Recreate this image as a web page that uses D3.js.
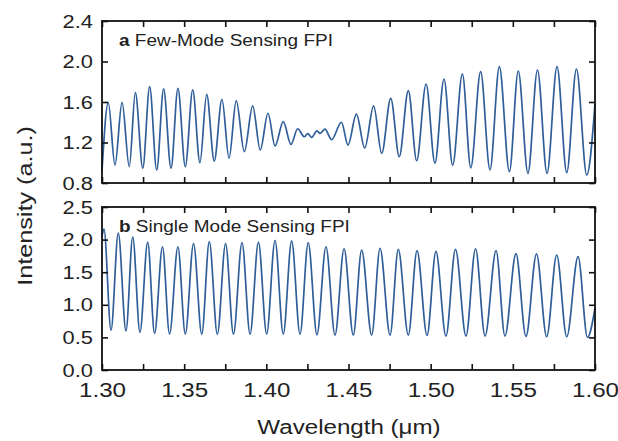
<!DOCTYPE html>
<html><head><meta charset="utf-8">
<script src="https://cdn.jsdelivr.net/npm/d3@7/dist/d3.min.js"></script>
<style>
body{margin:0;background:#fff}
text{font-family:Arial,"Liberation Sans",sans-serif;fill:#222}
</style>
</head><body><svg id="c" width="618" height="441"></svg>
<script>
// ---- data (extrema of the fringes) ----
const aWavelength = [1.3000,1.3038,1.3079,1.3122,1.3166,1.3203,1.3248,1.3290,1.3333,1.3375,1.3420,1.3462,1.3507,1.3552,1.3596,1.3637,1.3683,1.3730,1.3773,1.3817,1.3866,1.3917,1.3963,1.4010,1.4053,1.4103,1.4150,1.4191,1.4231,1.4252,1.4276,1.4308,1.4327,1.4357,1.4397,1.4457,1.4497,1.4548,1.4599,1.4653,1.4702,1.4757,1.4809,1.4864,1.4915,1.4972,1.5026,1.5081,1.5134,1.5193,1.5244,1.5304,1.5361,1.5418,1.5479,1.5533,1.5592,1.5650,1.5708,1.5769,1.5828,1.5887,1.5950,1.6000];
const aIntensity  = [0.92,1.593,0.978,1.597,0.961,1.692,0.945,1.751,0.928,1.729,0.945,1.735,0.961,1.719,1.000,1.676,1.017,1.627,1.044,1.613,1.109,1.561,1.126,1.489,1.166,1.406,1.182,1.336,1.257,1.288,1.251,1.314,1.290,1.332,1.228,1.400,1.175,1.480,1.146,1.562,1.093,1.637,1.060,1.712,1.020,1.778,0.995,1.827,0.975,1.877,0.950,1.900,0.930,1.949,0.912,1.906,0.896,1.916,0.896,1.949,0.902,1.926,0.879,1.58];

const bWavelength = [1.3000,1.3012,1.3055,1.3099,1.3146,1.3187,1.3231,1.3278,1.3320,1.3368,1.3411,1.3462,1.3507,1.3557,1.3607,1.3653,1.3702,1.3752,1.3800,1.3852,1.3901,1.3952,1.4002,1.4053,1.4103,1.4154,1.4205,1.4255,1.4308,1.4363,1.4418,1.4473,1.4529,1.4580,1.4641,1.4692,1.4753,1.4803,1.4864,1.4917,1.4978,1.5032,1.5093,1.5151,1.5215,1.5273,1.5331,1.5398,1.5452,1.5519,1.5580,1.5644,1.5706,1.5767,1.5828,1.5897,1.5954,1.6000];
const bIntensity  = [2.05,2.16,0.61,2.10,0.60,2.04,0.578,1.96,0.56,1.89,0.55,1.89,0.55,1.94,0.547,1.97,0.547,1.94,0.547,1.955,0.547,1.96,0.55,1.99,0.55,1.98,0.547,1.955,0.54,1.89,0.535,1.86,0.535,1.84,0.535,1.867,0.535,1.851,0.535,1.83,0.53,1.82,0.52,1.85,0.52,1.86,0.52,1.83,0.52,1.785,0.515,1.78,0.51,1.764,0.51,1.738,0.50,0.95];

const xTickValues = [1.300,1.325,1.350,1.375,1.400,1.425,1.450,1.475,1.500,1.525,1.550,1.575,1.600];
const xTickLabels = ["1.30","1.35","1.40","1.45","1.50","1.55","1.60"];
const aYTicks = [0.8,1.2,1.6,2.0,2.4];
const bYTicks = [0.0,0.5,1.0,1.5,2.0,2.5];
const panelLetters = ["a","b"];
const panelTitles = ["Few-Mode Sensing FPI","Single Mode Sensing FPI"];
const xTitle = "Wavelength (\u03bcm)";
const yTitle = "Intensity (a.u.)";

// ---- layout ----
const svg = d3.select("#c");
const L = 102, R = 595;
const SX = 1.15; // horizontal stretch of the lettering in the original
const panels = [
  {top:21, bottom:183, domain:[0.8,2.4], ticks:aYTicks, fmt:d3.format(".1f"), xs:aWavelength, ys:aIntensity},
  {top:207, bottom:370, domain:[0,2.5], ticks:bYTicks, fmt:d3.format(".1f"), xs:bWavelength, ys:bIntensity}
];
const x = d3.scaleLinear().domain([1.30,1.60]).range([L,R]);
const lineColor = "#2f5e98";

panels.forEach((p,i)=>{
  const y = d3.scaleLinear().domain(p.domain).range([p.bottom,p.top]);
  const g = svg.append("g");
  const pts = p.xs.map((v,k)=>[v,p.ys[k]]);
  g.append("path").datum(pts)
    .attr("fill","none").attr("stroke",lineColor).attr("stroke-width",1.7)
    .attr("d", d3.line().x(d=>x(d[0])).y(d=>y(d[1])).curve(d3.curveMonotoneX));

  const inward = 6;
  const ax = (axisGen, tx, ty, vals, fmt) => {
    const a = g.append("g").attr("transform",`translate(${tx},${ty})`)
      .call(axisGen.tickValues(vals).tickSizeInner(-inward).tickSizeOuter(0).tickFormat(fmt));
    a.select(".domain").remove();
    a.selectAll(".tick line").attr("stroke","#111").attr("stroke-width",1.6);
    return a;
  };
  const lbl = d => { const s = d3.format(".2f")(d); return xTickLabels.includes(s) && Math.round(d*1000)%50===0 ? s : ""; };
  const bx = ax(d3.axisBottom(x), 0, p.bottom, xTickValues, i===1 ? lbl : ()=>"");
  bx.selectAll("text").attr("font-size",21).attr("y",null).attr("dy",null)
    .attr("transform",`translate(0,27) scale(${SX},1)`).attr("fill","#222");
  ax(d3.axisTop(x), 0, p.top, xTickValues, ()=>"");
  const ly = ax(d3.axisLeft(y), L, 0, p.ticks, p.fmt);
  ly.selectAll("text").attr("font-size",19).attr("x",null)
    .attr("transform",`translate(-9,0) scale(${SX},1)`).attr("fill","#222");
  ax(d3.axisRight(y), R, 0, p.ticks, ()=>"");

  g.append("rect").attr("x",L).attr("y",p.top).attr("width",R-L).attr("height",p.bottom-p.top)
    .attr("fill","none").attr("stroke","#111").attr("stroke-width",1.8);

  const t = g.append("text").attr("transform",`translate(119,${p.top+25}) scale(${SX},1)`).attr("font-size",16.5);
  t.append("tspan").attr("font-weight","bold").text(panelLetters[i]);
  t.append("tspan").text(" "+panelTitles[i]);
});

svg.append("text").attr("transform",`translate(349,434) scale(${SX},1)`).attr("text-anchor","middle").attr("font-size",21).text(xTitle);
svg.append("text").attr("transform",`translate(32,206) rotate(-90) scale(1.2,1)`).attr("text-anchor","middle").attr("font-size",21).text(yTitle);
</script></body></html>
